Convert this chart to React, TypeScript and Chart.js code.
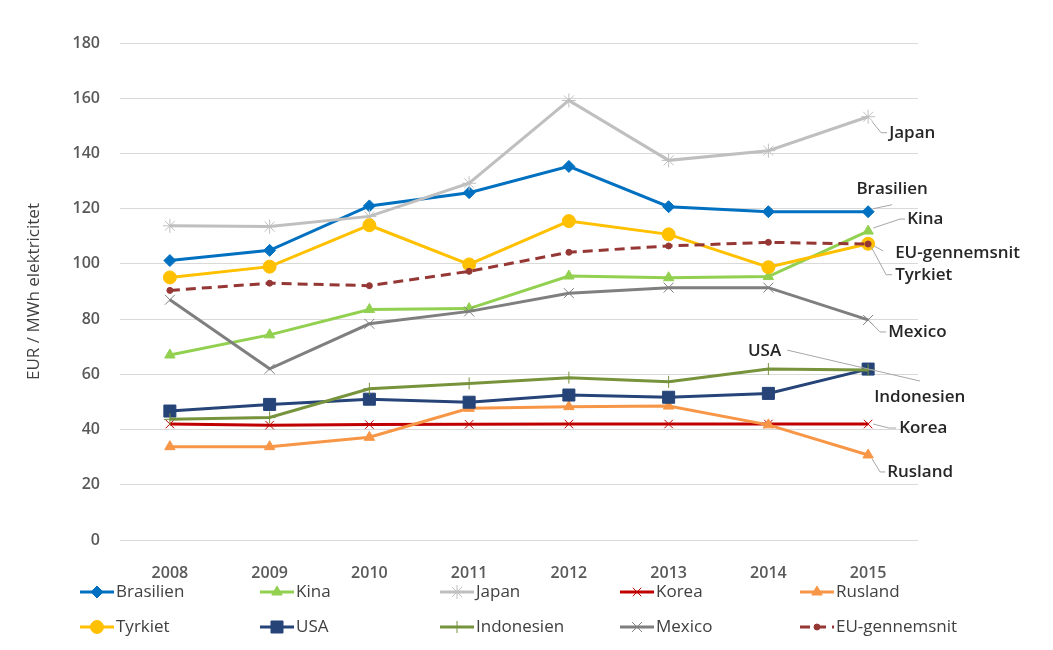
import { useEffect, useRef } from 'react';
import { Chart, registerables } from 'chart.js';
import { drawPoint } from 'chart.js/helpers';

Chart.register(...registerables);

const years = ['2008', '2009', '2010', '2011', '2012', '2013', '2014', '2015'];

const brasilien = [101.2, 104.9, 121, 125.8, 135.3, 120.7, 118.9, 118.9];
const kina = [67, 74.3, 83.5, 83.8, 95.6, 95, 95.4, 111.9];
const japan = [113.8, 113.5, 117.2, 129.2, 159.2, 137.5, 141, 153.3];
const korea = [42, 41.6, 41.8, 41.9, 42, 42, 42, 42];
const rusland = [33.8, 33.8, 37.2, 47.7, 48.3, 48.5, 41.7, 30.8];
const tyrkiet = [95.1, 99, 114, 99.8, 115.5, 110.7, 98.8, 107.3];
const usa = [46.7, 49.1, 51, 49.9, 52.5, 51.7, 53.1, 61.9];
const indonesien = [43.7, 44.4, 54.8, 56.7, 58.8, 57.3, 61.9, 61.6];
const mexico = [87, 62, 78.3, 82.8, 89.4, 91.4, 91.4, 79.7];
const euGennemsnit = [90.4, 93, 92.1, 97.3, 104.2, 106.5, 107.8, 107.2];

const yTicks = { min: 0, max: 180, step: 20 };

const TEXT = '#404040';

// series styling, in legend order
const seriesList = [
  { label: 'Brasilien', data: brasilien, color: '#0070C0', point: 'rectRot', radius: 6 },
  { label: 'Kina', data: kina, color: '#92D050', point: 'triangle', radius: 6 },
  { label: 'Japan', data: japan, color: '#BFBFBF', point: 'star', radius: 7 },
  { label: 'Korea', data: korea, color: '#C00000', point: 'crossRot', radius: 6 },
  { label: 'Rusland', data: rusland, color: '#F79646', point: 'triangle', radius: 6 },
  { label: 'Tyrkiet', data: tyrkiet, color: '#FFC000', point: 'circle', radius: 6.5 },
  { label: 'USA', data: usa, color: '#264478', point: 'rect', radius: 8.5 },
  { label: 'Indonesien', data: indonesien, color: '#77933C', point: 'cross', radius: 6 },
  { label: 'Mexico', data: mexico, color: '#7F7F7F', point: 'crossRot', radius: 7 },
  { label: 'EU-gennemsnit', data: euGennemsnit, color: '#953735', point: 'circle', radius: 3, dash: [10, 6] },
];

// end labels: offset of text from the last point, and leader line offsets
const endLabels = {
  Japan: { dx: 21, dy: 16, align: 'left', leader: [[4, 5], [13, 16], [19, 16]] },
  Brasilien: { dx: 24, dy: -23, align: 'center', leader: [[5, -3], [24, -7]] },
  Kina: { dx: 39, dy: -12, align: 'left', leader: [[5, -3], [32, -12], [37, -12]] },
  'EU-gennemsnit': { dx: 27, dy: 9, align: 'left', leader: [[6, 2], [15, 7]] },
  Tyrkiet: { dx: 27, dy: 31, align: 'left', leader: [[3, 3], [18, 31], [24, 31]] },
  Mexico: { dx: 20, dy: 12, align: 'left', leader: [[4, 4], [12, 12], [18, 12]] },
  USA: { dx: -87, dy: -18, align: 'right', leader: [[-81, -19], [52, 12]] },
  Indonesien: { dx: 6, dy: 27, align: 'left', leader: [] },
  Korea: { dx: 31, dy: 4, align: 'left', leader: [[5, 0], [21, 4], [28, 4]] },
  Rusland: { dx: 19, dy: 17, align: 'left', leader: [[4, 4], [12, 17], [17, 17]] },
};

const endLabelPlugin = {
  id: 'endLabels',
  afterDatasetsDraw(chart) {
    const ctx = chart.ctx;
    ctx.save();
    chart.data.datasets.forEach((ds, i) => {
      const cfg = endLabels[ds.label];
      if (!cfg) return;
      const pts = chart.getDatasetMeta(i).data;
      const p = pts[pts.length - 1];
      if (cfg.leader.length) {
        ctx.strokeStyle = '#A6A6A6';
        ctx.lineWidth = 1;
        ctx.setLineDash([]);
        ctx.beginPath();
        cfg.leader.forEach(([lx, ly], k) => {
          if (k === 0) ctx.moveTo(p.x + lx, p.y + ly);
          else ctx.lineTo(p.x + lx, p.y + ly);
        });
        ctx.stroke();
      }
      ctx.fillStyle = '#262626';
      ctx.font = '600 17px "Open Sans"';
      ctx.textAlign = cfg.align;
      ctx.textBaseline = 'middle';
      ctx.fillText(ds.label, p.x + cfg.dx, p.y + cfg.dy);
    });
    ctx.restore();
  },
};

const legendPlugin = {
  id: 'rowLegend',
  afterDraw(chart) {
    const ctx = chart.ctx;
    ctx.save();
    chart.data.datasets.forEach((ds, i) => {
      const x = 80 + (i % 5) * 180;
      const y = i < 5 ? 592 : 627;
      ctx.strokeStyle = ds.borderColor;
      ctx.lineWidth = 3;
      ctx.setLineDash(ds.borderDash || []);
      ctx.beginPath();
      ctx.moveTo(x, y);
      ctx.lineTo(x + 34, y);
      ctx.stroke();
      ctx.setLineDash([]);
      ctx.fillStyle = ds.borderColor;
      ctx.lineWidth = 1;
      drawPoint(ctx, { pointStyle: ds.pointStyle, radius: ds.pointRadius, borderWidth: 1, rotation: 0 }, x + 17, y);
      ctx.fillStyle = TEXT;
      ctx.font = '17px "Open Sans"';
      ctx.textAlign = 'left';
      ctx.textBaseline = 'middle';
      ctx.fillText(ds.label, x + 36, y);
    });
    ctx.restore();
  },
};

function PriceChart() {
  const chartRef = useRef(null);

  useEffect(() => {
    const ctx = chartRef.current.getContext('2d');
    const n = seriesList.length;

    const chartInstance = new Chart(ctx, {
      type: 'line',
      data: {
        labels: years,
        datasets: seriesList.map((s, i) => ({
          label: s.label,
          data: s.data,
          borderColor: s.color,
          backgroundColor: s.color,
          borderWidth: 3,
          borderDash: s.dash || [],
          pointStyle: s.point,
          pointRadius: s.radius,
          pointBackgroundColor: s.color,
          pointBorderColor: s.color,
          pointBorderWidth: 1,
          tension: 0,
          order: n - i,
        })),
      },
      options: {
        animation: false,
        responsive: true,
        maintainAspectRatio: false,
        layout: { padding: { top: 43, right: 135, bottom: 70, left: 0 } },
        plugins: {
          legend: { display: false },
          tooltip: { enabled: false },
        },
        scales: {
          x: {
            offset: true,
            grid: { display: false },
            border: { display: false },
            ticks: {
              padding: 16,
              color: '#595959',
              font: { family: 'Open Sans', size: 16, weight: '600' },
              maxRotation: 0,
            },
            afterFit: (scale) => {
              scale.height = 40;
            },
          },
          y: {
            min: yTicks.min,
            max: yTicks.max,
            grid: { color: '#D9D9D9', lineWidth: 1, drawTicks: false },
            border: { display: false },
            ticks: {
              stepSize: yTicks.step,
              padding: 20,
              color: '#595959',
              font: { family: 'Open Sans', size: 16, weight: '600' },
            },
            title: {
              display: true,
              text: 'EUR / MWh elektricitet',
              color: TEXT,
              font: { family: 'Open Sans', size: 17 },
              padding: { top: 24, bottom: 0 },
            },
            afterFit: (scale) => {
              scale.width = 120;
            },
          },
        },
      },
      plugins: [endLabelPlugin, legendPlugin],
    });

    return () => {
      chartInstance.destroy();
    };
  }, []);

  return (
    <div style={{ position: 'absolute', left: 0, top: 0, width: 1053, height: 650, background: '#fff' }}>
      <canvas ref={chartRef} />
    </div>
  );
}

export default function App() {
  return <PriceChart />;
}
